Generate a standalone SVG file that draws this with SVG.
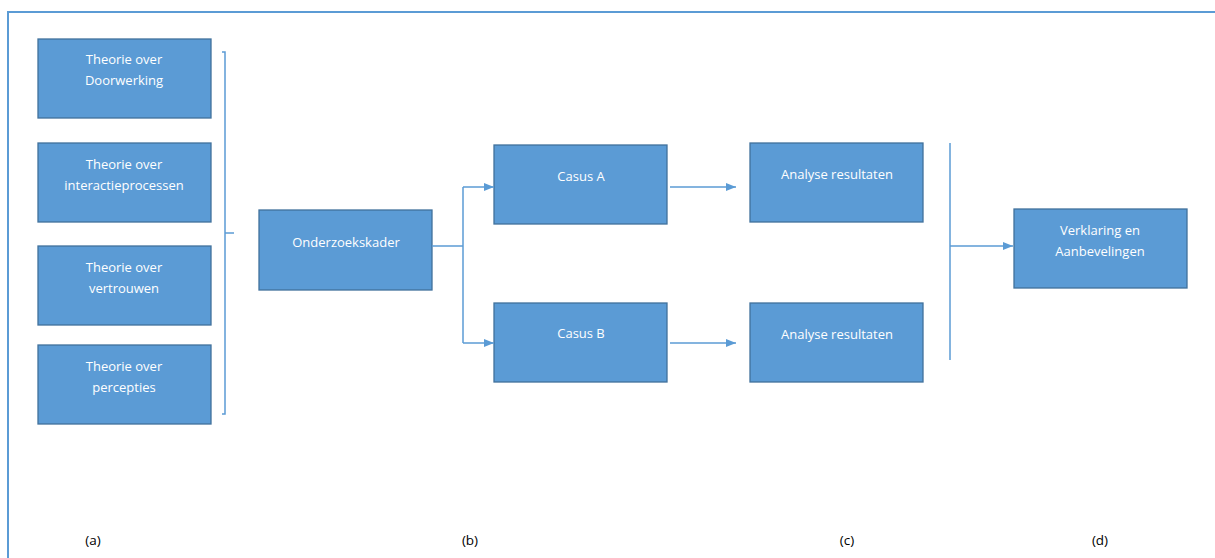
<svg xmlns="http://www.w3.org/2000/svg" width="1215" height="558" viewBox="0 0 1215 558">
<style>
.box{fill:#5b9bd5;stroke:#41719c;stroke-width:1.3}
.t{font-family:"Open Sans","Liberation Sans",sans-serif;font-size:13px;fill:#ffffff;text-anchor:middle}
.lbl{font-family:"Open Sans","Liberation Sans",sans-serif;font-size:13.5px;fill:#000000;text-anchor:middle}
.ln{fill:none;stroke:#5b9bd5;stroke-width:1.5}
</style>
<defs>
<marker id="ah" markerWidth="10" markerHeight="8" refX="10" refY="4" orient="auto" markerUnits="userSpaceOnUse">
<path d="M0,0 L10,4 L0,8 Z" fill="#5b9bd5"/>
</marker>
</defs>
<rect width="1215" height="558" fill="#ffffff"/>
<path d="M8,558 L8,12 L1215,12" fill="none" stroke="#5b9bd5" stroke-width="2"/>
<g id="n1"><rect class="box" x="38" y="39" width="173" height="79"/><text class="t" x="124" y="64">Theorie over</text><text class="t" x="124" y="85">Doorwerking</text></g>
<g id="n2"><rect class="box" x="38" y="143" width="173" height="79"/><text class="t" x="124" y="169">Theorie over</text><text class="t" x="124" y="190">interactieprocessen</text></g>
<g id="n3"><rect class="box" x="38" y="246" width="173" height="79"/><text class="t" x="124" y="272">Theorie over</text><text class="t" x="124" y="293">vertrouwen</text></g>
<g id="n4"><rect class="box" x="38" y="345" width="173" height="79"/><text class="t" x="124" y="371">Theorie over</text><text class="t" x="124" y="392">percepties</text></g>
<g id="n5"><rect class="box" x="259" y="210" width="173" height="80"/><text class="t" x="346" y="247">Onderzoekskader</text></g>
<g id="n6"><rect class="box" x="494" y="145" width="173" height="79"/><text class="t" x="581" y="181">Casus A</text></g>
<g id="n7"><rect class="box" x="494" y="303" width="173" height="79"/><text class="t" x="581" y="338">Casus B</text></g>
<g id="n8"><rect class="box" x="750" y="143" width="173" height="79"/><text class="t" x="837" y="179">Analyse resultaten</text></g>
<g id="n9"><rect class="box" x="750" y="303" width="173" height="79"/><text class="t" x="837" y="339">Analyse resultaten</text></g>
<g id="n10"><rect class="box" x="1014" y="209" width="173" height="79"/><text class="t" x="1100" y="235">Verklaring en</text><text class="t" x="1100" y="256">Aanbevelingen</text></g>
<g id="connectors">
<path class="ln" d="M222,52 L225,52 L225,414 L222,414"/>
<path class="ln" d="M225,233 L234,233"/>
<path class="ln" d="M432,246 L463,246"/>
<path class="ln" d="M463,187 L463,343"/>
<path class="ln" d="M463,187 L494,187" marker-end="url(#ah)"/>
<path class="ln" d="M463,343 L494,343" marker-end="url(#ah)"/>
<path class="ln" d="M670,187 L736,187" marker-end="url(#ah)"/>
<path class="ln" d="M670,343 L736,343" marker-end="url(#ah)"/>
<path class="ln" d="M950,143 L950,360"/>
<path class="ln" d="M950,246 L1013,246" marker-end="url(#ah)"/>
</g>
<g id="labels">
<text class="lbl" x="93" y="545">(a)</text>
<text class="lbl" x="470" y="545">(b)</text>
<text class="lbl" x="847" y="545">(c)</text>
<text class="lbl" x="1100" y="545">(d)</text>
</g>
</svg>
